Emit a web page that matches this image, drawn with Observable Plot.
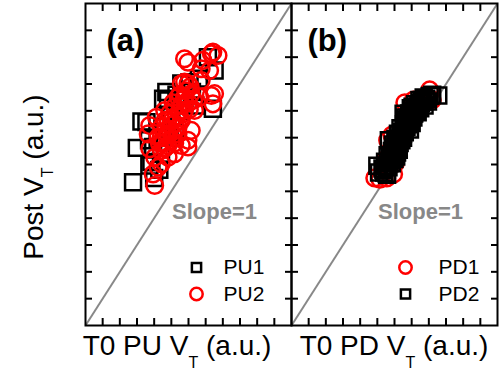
<!DOCTYPE html>
<html><head><meta charset="utf-8">
<script src="https://cdn.jsdelivr.net/npm/d3@7"></script>
<script src="https://cdn.jsdelivr.net/npm/@observablehq/plot@0.6"></script>
<style>body{margin:0;background:#fff} #chart svg{display:block}</style>
</head><body><div id="chart"></div>
<script>
// ---- data ----
const panels = ["a", "b"];
const panelTags = ["(a)", "(b)"];
const xLabelTexts = ["T0 PU V", "T0 PD V"];
const yLabelText = "Post V";
const subscript = "T";
const unitText = " (a.u.)";
const slopeText = "Slope=1";
const axisDomain = [0, 12];
const tickValues = [1, 2, 3, 4, 5, 6, 7, 8, 9, 10, 11];
const seriesNames = ["PU1", "PU2", "PD1", "PD2"];

// Panel (a): PU1 squares
const pu1 = [[2.77,5.34],[2.99,6.62],[3.26,7.60],[3.55,7.58],[3.84,6.09],[3.72,5.96],[3.94,6.65],[4.71,8.70],[4.81,8.39],[4.52,8.45],[5.58,9.02],[6.06,9.07],[7.13,10.00],[7.52,9.50],[7.42,8.08],[5.00,7.80],[5.50,8.00],[4.60,7.40],[5.80,8.50],[4.20,7.00],[6.20,8.70],[5.20,7.20],[4.40,6.40],[6.60,9.20],[4.00,5.50],[5.30,8.60],[4.90,7.00],[6.40,8.20],[3.70,6.90],[4.30,5.80]];
// Panel (a): PU2 circles
const pu2 = [[4.03,5.22],[4.23,5.90],[3.74,7.45],[4.42,6.03],[4.81,6.27],[5.19,6.40],[5.58,6.71],[5.97,6.65],[4.23,7.02],[4.81,7.14],[4.13,7.76],[4.61,8.01],[5.19,8.14],[5.77,8.51],[5.97,9.01],[6.16,8.64],[5.58,9.01],[5.19,7.52],[5.58,7.64],[6.35,8.01],[5.97,9.81],[6.84,9.88],[7.42,10.19],[7.72,10.06],[7.23,9.50],[7.33,8.57],[7.42,8.26],[6.74,9.13],[6.65,8.51],[4.42,6.52],[4.03,6.27],[5.00,6.90],[5.39,7.14],[4.81,7.64],[4.42,7.39],[5.77,8.01],[6.16,7.27],[5.39,8.51],[3.65,7.14],[3.74,6.59],[5.97,6.90],[3.94,5.65],[5.77,9.94],[7.33,10.13],[6.74,9.57],[7.52,8.64],[5.77,9.07],
  [4.50,6.80],[4.90,7.30],[5.30,7.80],[5.60,8.20],[5.00,7.60],[4.70,7.10],[5.40,7.40],[5.10,8.30],[4.40,7.00],[5.80,8.30],[6.00,8.30],[4.60,6.60],[5.20,6.80],[4.90,7.90],[5.50,8.60],[6.10,8.90],[4.30,6.80],[5.70,7.90],[6.30,8.40],[4.80,6.70],[5.10,7.10],[5.45,7.95],[4.65,7.65],[5.85,8.75],[6.05,8.05]];
// Panel (b): PD1 circles
const pd1 = [[4.85,5.50],[5.15,5.45],[5.55,5.50],[5.95,5.65],[6.05,6.05],[5.60,6.90],[5.85,7.10],[6.60,8.30],[7.10,8.40],[8.05,8.78],[8.20,8.40],[5.50,6.20],[6.00,6.60],[6.40,7.10],[6.90,7.60],[7.30,8.00],[7.70,8.30],[6.20,6.90],[5.80,6.40]];
// Panel (b): PD2 squares
const pd2 = [[5.00,5.95],[5.10,5.70],[5.55,5.65],[5.30,5.85],[5.65,5.90],[5.45,6.10],[5.80,6.15],[5.60,6.35],[6.10,6.30],[5.85,6.50],[6.25,6.55],[5.90,6.75],[6.30,6.80],[6.05,6.95],[6.50,7.00],[6.20,7.15],[6.60,7.20],[6.35,7.35],[6.90,7.30],[6.55,7.50],[7.00,7.55],[6.60,7.75],[7.10,7.75],[6.85,7.90],[7.35,7.95],[6.95,8.10],[7.50,8.10],[7.20,8.25],[7.75,8.20],[7.45,8.40],[7.95,8.35],[7.70,8.50],[8.55,8.57],[5.67,6.90],[6.53,7.89],[5.57,5.62],
  [5.35,5.80],[5.50,5.95],[5.70,6.05],[5.75,6.25],[5.95,6.40],[6.00,6.20],[6.15,6.45],[6.05,6.65],[6.20,6.70],[6.40,6.90],[6.15,6.85],[6.35,7.05],[6.45,7.20],[6.55,7.35],[6.70,7.40],[6.65,7.55],[6.80,7.60],[6.75,7.70],[6.95,7.75],[6.95,7.90],[7.10,8.00],[7.15,7.90],[7.30,8.10],[7.40,8.20],[7.55,8.30],[7.60,8.40],[7.85,8.45],[8.05,8.55],[8.20,8.60],[5.85,6.05],[6.10,6.60],[6.50,7.15],[6.85,7.50],[7.25,8.00],[7.65,8.35],[5.40,5.70],[5.95,6.25],[6.30,6.95],[6.70,7.65],[7.05,8.15]];

// ---- styles ----
const FONT = "Liberation Sans, Arial, Helvetica, sans-serif";
const GRAY = "#888888";
const RED = "#ff0000";
const BLACK = "#000000";
const panelLayout = {
  a: {anchorSide: "left", tagDx: 21, slopeDx: 129, markDx: 111, textDx: 138, labelShift: -11},
  b: {anchorSide: "right", tagDx: -190, slopeDx: -77, markDx: -92, textDx: -59, labelShift: 0}
};
const legendEntries = [
  {panel: "a", label: seriesNames[0], symbol: "square", color: BLACK, row: 0},
  {panel: "a", label: seriesNames[1], symbol: "circle", color: RED, row: 1},
  {panel: "b", label: seriesNames[2], symbol: "circle", color: RED, row: 0},
  {panel: "b", label: seriesNames[3], symbol: "square", color: BLACK, row: 1}
];

const rows = (arr, panel, series) => arr.map(([x, y]) => ({panel, series, x, y}));
const diag = panels.map(p => ({panel: p, x1: axisDomain[0], y1: axisDomain[0], x2: axisDomain[1], y2: axisDomain[1]}));
const tagRows = panels.map((p, i) => ({panel: p, text: panelTags[i]}));

const marks = [];
marks.push(Plot.link(diag, {fx: "panel", x1: "x1", y1: "y1", x2: "x2", y2: "y2", stroke: GRAY, strokeWidth: 2}));
const dotStyle = {fx: "panel", x: "x", y: "y", strokeWidth: 2.5, fill: "none"};
marks.push(Plot.dot(rows(pu1, "a", "PU1"), {...dotStyle, symbol: "square", r: 9, stroke: BLACK}));
marks.push(Plot.dot(rows(pu2, "a", "PU2"), {...dotStyle, symbol: "circle", r: 8.3, stroke: RED}));
marks.push(Plot.dot(rows(pd1, "b", "PD1"), {...dotStyle, symbol: "circle", r: 8.3, stroke: RED}));
marks.push(Plot.dot(rows(pd2, "b", "PD2"), {...dotStyle, symbol: "square", r: 9, stroke: BLACK}));
panels.forEach((p, i) => {
  const L = panelLayout[p];
  const side = L.anchorSide;
  marks.push(Plot.text([tagRows[i]], {fx: "panel", text: "text", frameAnchor: "top-" + side, textAnchor: "start", lineAnchor: "bottom", dx: L.tagDx, dy: 47, fontSize: 31, fontWeight: "bold", fill: BLACK}));
  marks.push(Plot.text([{panel: p, text: slopeText}], {fx: "panel", text: "text", frameAnchor: "top-" + side, textAnchor: "middle", lineAnchor: "bottom", dx: L.slopeDx, dy: 215, fontSize: 22, fontWeight: "bold", fill: GRAY}));
});
legendEntries.forEach(e => {
  const L = panelLayout[e.panel];
  const dy = e.row === 0 ? -58 : -31.5;
  marks.push(Plot.dot([e], {fx: "panel", frameAnchor: "bottom-" + L.anchorSide, dx: L.markDx, dy, symbol: e.symbol, r: e.symbol === "square" ? 5.2 : 6.2, stroke: e.color, strokeWidth: 2.5, fill: "none"}));
  marks.push(Plot.text([e], {fx: "panel", text: "label", frameAnchor: "bottom-" + L.anchorSide, dx: L.textDx, dy, textAnchor: "start", lineAnchor: "middle", fontSize: 21, fill: BLACK}));
});
const tickOpts = {ticks: tickValues, tickSize: -7, tickFormat: () => "", label: null, facetAnchor: null, strokeWidth: 2};
marks.push(Plot.axisX({...tickOpts, anchor: "bottom"}));
marks.push(Plot.axisX({...tickOpts, anchor: "top"}));
marks.push(Plot.axisY({...tickOpts, anchor: "left"}));
marks.push(Plot.axisY({...tickOpts, anchor: "right"}));
marks.push(Plot.frame({stroke: BLACK, strokeWidth: 2}));

const chart = Plot.plot({
  width: 502,
  height: 371,
  marginLeft: 84,
  marginRight: 5,
  marginTop: 3,
  marginBottom: 46,
  style: {fontFamily: FONT, background: "#fff", overflow: "visible"},
  fx: {domain: panels, padding: 0, axis: null, label: null},
  x: {domain: axisDomain, axis: null},
  y: {domain: axisDomain, axis: null},
  marks
});
document.getElementById("chart").appendChild(chart);

const svg = d3.select(chart.tagName.toLowerCase() === "svg" ? chart : chart.querySelector("svg"));
const fx = chart.scale("fx");
panels.forEach((p, i) => {
  const cx = fx.apply(p) + fx.bandwidth / 2 + panelLayout[p].labelShift;
  const t = svg.append("text").attr("x", cx).attr("y", 355).attr("text-anchor", "middle")
    .attr("font-family", FONT).attr("font-size", 28).attr("fill", BLACK);
  t.append("tspan").text(xLabelTexts[i]);
  t.append("tspan").attr("font-size", 16).attr("dy", 13).text(subscript);
  t.append("tspan").attr("dy", -13).text(unitText);
});
const yt = svg.append("text").attr("transform", "translate(43,177) rotate(-90)").attr("text-anchor", "middle")
  .attr("font-family", FONT).attr("font-size", 28).attr("fill", BLACK);
yt.append("tspan").text(yLabelText);
yt.append("tspan").attr("font-size", 16).attr("dy", 10).text(subscript);
yt.append("tspan").attr("dy", -10).text(unitText);
</script>
</body></html>
